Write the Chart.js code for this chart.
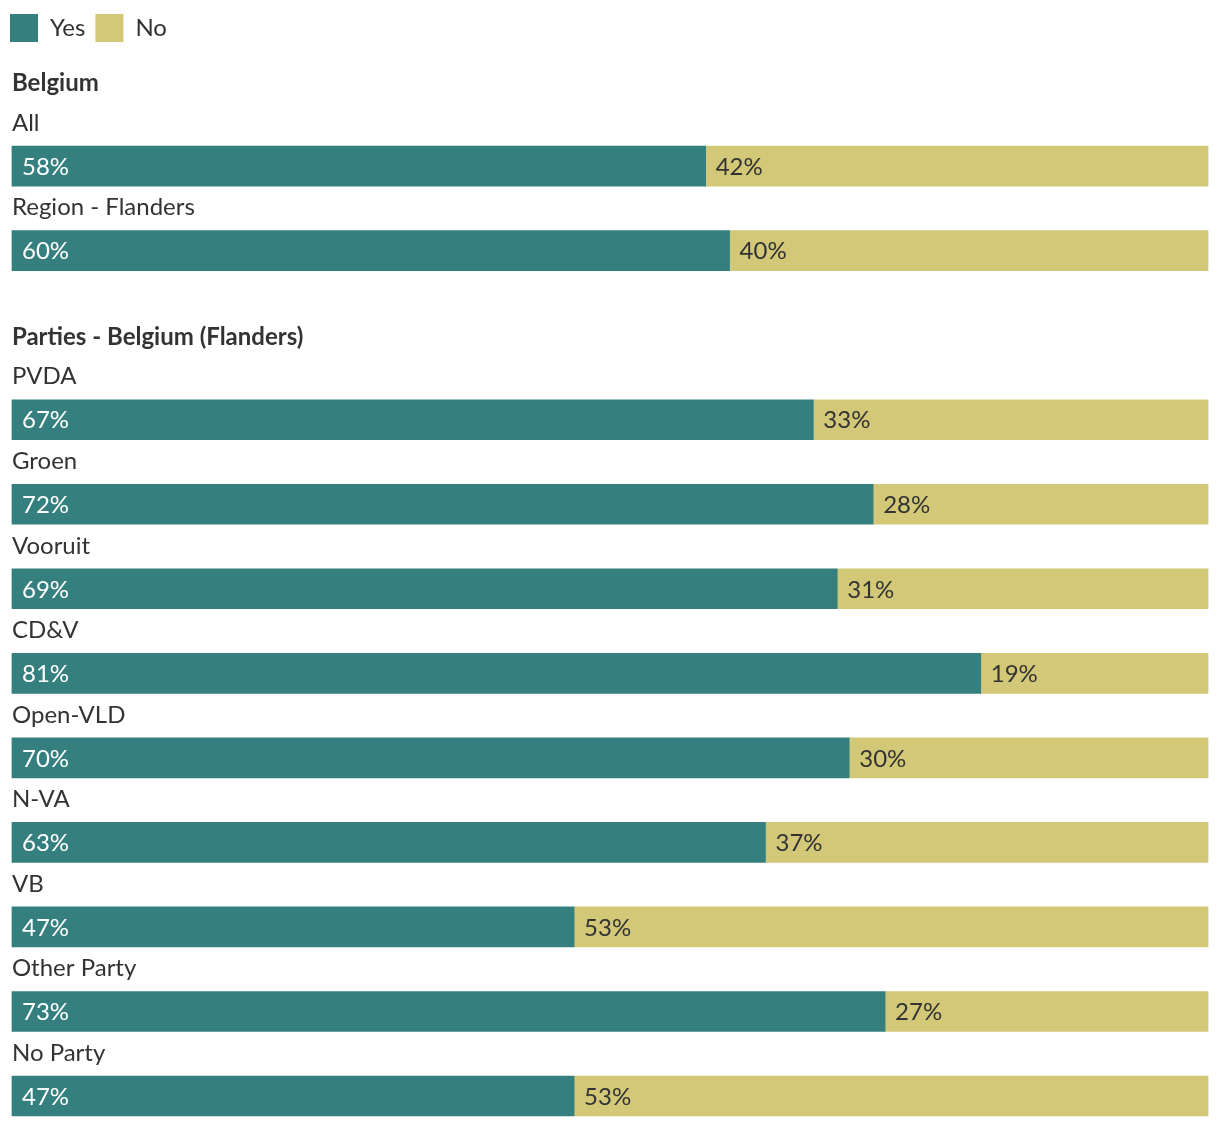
<!DOCTYPE html>
<html>
<head>
<meta charset="utf-8">
<script src="https://cdn.jsdelivr.net/npm/chart.js@4.4.1/dist/chart.umd.min.js"></script>
<style>
  html, body { margin: 0; padding: 0; background: #fff; overflow: hidden; }
  #wrap { width: 1220px; height: 1126px; }
</style>
</head>
<body>
<div id="wrap"><canvas id="myChart"></canvas></div>
<script>
// groups and the rows inside them
const groupNames = ['Belgium', 'Parties - Belgium (Flanders)'];
const categories = ['All', 'Region - Flanders', 'PVDA', 'Groen', 'Vooruit', 'CD&V',
  'Open-VLD', 'N-VA', 'VB', 'Other Party', 'No Party'];
const categoryGroup = [0, 0, 1, 1, 1, 1, 1, 1, 1, 1, 1];
const yesValues = [58, 60, 67, 72, 69, 81, 70, 63, 47, 73, 47];
const noValues = [42, 40, 33, 28, 31, 19, 30, 37, 53, 27, 53];

const TEAL = '#35807f';
const KHAKI = '#d2c878';
const TEXT = '#333333';
const FONT = 'Lato';

// each group gets its own header row, so row = index + group + 1
const rowOf = categories.map((c, i) => i + categoryGroup[i] + 1);
const headerRows = groupNames.map((g, gi) => rowOf[categoryGroup.indexOf(gi)] - 1);

const toPoints = (vals) => vals.map((v, i) => ({ x: v, y: rowOf[i] }));

const barLabels = {
  id: 'barLabels',
  afterDatasetsDraw(chart) {
    const ctx = chart.ctx;
    const yScale = chart.scales.y;
    const left = chart.scales.x.getPixelForValue(0);
    const yesMeta = chart.getDatasetMeta(0);
    const noMeta = chart.getDatasetMeta(1);
    ctx.save();
    ctx.textBaseline = 'middle';
    ctx.textAlign = 'left';

    // group headers
    ctx.font = 'bold 24px ' + FONT;
    ctx.fillStyle = TEXT;
    groupNames.forEach((g, gi) => {
      ctx.fillText(g, left, yScale.getPixelForValue(headerRows[gi]) + 2);
    });

    categories.forEach((c, i) => {
      const yesBar = yesMeta.data[i];
      const noBar = noMeta.data[i];
      // category name above the bar
      ctx.font = '24px ' + FONT;
      ctx.fillStyle = TEXT;
      ctx.fillText(c, left, yesBar.y - 43);
      // values inside the segments
      ctx.fillStyle = '#ffffff';
      ctx.fillText(yesValues[i] + '%', Math.min(yesBar.base, yesBar.x) + 10, yesBar.y + 1);
      ctx.fillStyle = TEXT;
      ctx.fillText(noValues[i] + '%', Math.min(noBar.base, noBar.x) + 10, noBar.y + 1);
    });
    ctx.restore();
  }
};

const ctx = document.getElementById('myChart');
new Chart(ctx, {
  type: 'bar',
  data: {
    datasets: [{
      label: 'Yes',
      data: toPoints(yesValues),
      backgroundColor: TEAL,
      borderWidth: 0,
      barThickness: 40
    }, {
      label: 'No',
      data: toPoints(noValues),
      backgroundColor: KHAKI,
      borderWidth: 0,
      barThickness: 40
    }]
  },
  options: {
    indexAxis: 'y',
    responsive: true,
    maintainAspectRatio: false,
    animation: false,
    layout: { padding: { top: 4, left: 0, right: 0, bottom: 0 } },
    scales: {
      x: { stacked: true, min: -1, max: 101, display: false },
      y: {
        type: 'linear', stacked: true, reverse: true, offset: false,
        min: -0.35, max: 12.355, display: false
      }
    },
    plugins: {
      tooltip: { enabled: false },
      legend: {
        position: 'top',
        align: 'start',
        labels: {
          boxWidth: 28,
          boxHeight: 28,
          padding: 10,
          color: TEXT,
          font: { family: FONT, size: 24 }
        }
      }
    }
  },
  plugins: [barLabels]
});
</script>
</body>
</html>
